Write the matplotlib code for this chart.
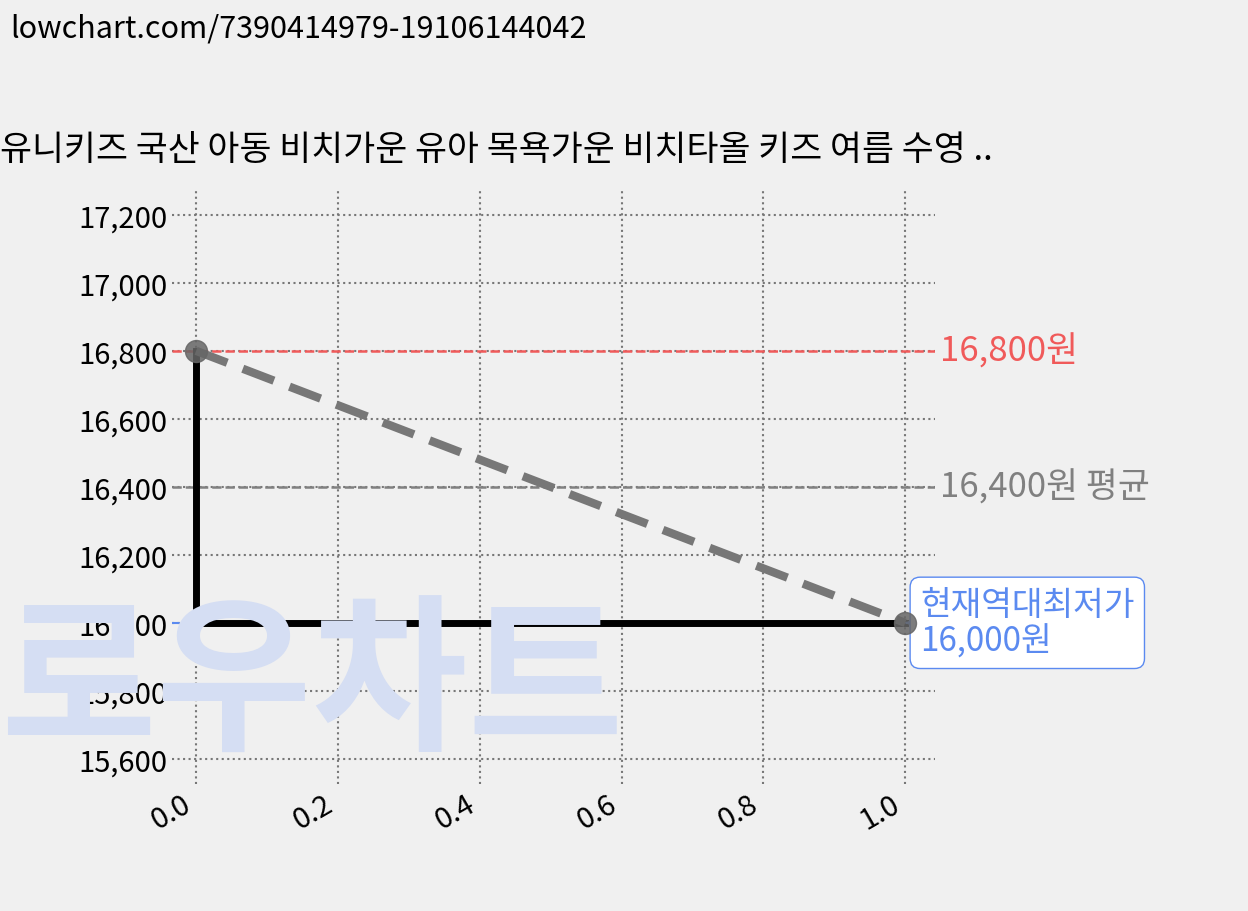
import matplotlib
matplotlib.use("Agg")
import matplotlib.pyplot as plt

plt.rcParams['font.family'] = ['Noto Sans CJK KR', 'DejaVu Sans']

xs = [0.0, 1.0]
prices = [16800, 16000]
max_price = 16800
avg_price = 16400
min_price = 16000
yticks = [15600, 15800, 16000, 16200, 16400, 16600, 16800, 17000, 17200]
xticks = [0.0, 0.2, 0.4, 0.6, 0.8, 1.0]
title = "유니키즈 국산 아동 비치가운 유아 목욕가운 비치타올 키즈 여름 수영 .."
url = "lowchart.com/7390414979-19106144042"

fig = plt.figure(figsize=(12.48, 9.12), dpi=100, facecolor='#f0f0f0')
ax = fig.add_axes([172/1248, 1-785/912, (935-172)/1248, (785-190)/912])
ax.set_facecolor('none')

fig.text(0.0, 0.245, "로우차트", fontsize=122, fontweight='black', color='#d5def3',
         ha='left', va='center', zorder=0)

ax.grid(True, linestyle=':', color='#777777', linewidth=1.5)
for s in ax.spines.values():
    s.set_visible(False)
ax.tick_params(length=0, labelsize=21)

ax.axhline(max_price, color='#f05a5a', linestyle='--', linewidth=1.8)
ax.axhline(avg_price, color='#808080', linestyle='--', linewidth=1.8)
ax.axhline(min_price, color='#5b8af0', linestyle='--', linewidth=1.5)

ax.plot([xs[0], xs[0], xs[1]], [prices[0], prices[1], prices[1]], color='black', linewidth=5, zorder=3)
ax.plot(xs, prices, color='#777777', linestyle='--', linewidth=6, dashes=(4, 2), zorder=4)
ax.scatter(xs, prices, s=250, color='#666666', alpha=0.85, zorder=5)

ax.set_xlim(-0.034, 1.042)
ax.set_ylim(15526, 17276)
ax.set_yticks(yticks)
ax.set_yticklabels([f"{v:,}" for v in yticks])
ax.set_xticks(xticks)
ax.set_xticklabels([f"{v:.1f}" for v in xticks], rotation=30, ha='right', fontsize=21)

ax.text(1.007, max_price, f"{max_price:,}원", color='#f05a5a', fontsize=25, va='center',
        transform=ax.get_yaxis_transform(), clip_on=False)
ax.text(1.007, avg_price, f"{avg_price:,}원 평균", color='#808080', fontsize=25, va='center',
        transform=ax.get_yaxis_transform(), clip_on=False)
ax.annotate(f"현재역대최저가\n{min_price:,}원", xy=(1.0, min_price), xytext=(1.021, min_price),
            color='#5b8af0', fontsize=24, va='center', ha='left', linespacing=1.05,
            bbox=dict(boxstyle='round,pad=0.3', fc='white', ec='#5b8af0'),
            arrowprops=dict(arrowstyle='-|>', color='#5b8af0', lw=1.5), annotation_clip=False)

fig.text(0.008, 0.985, url, fontsize=22, ha='left', va='top')
fig.text(0.0, 0.835, title, fontsize=25, ha='left', va='center')

fig.savefig('out.png', dpi=100, facecolor=fig.get_facecolor())
